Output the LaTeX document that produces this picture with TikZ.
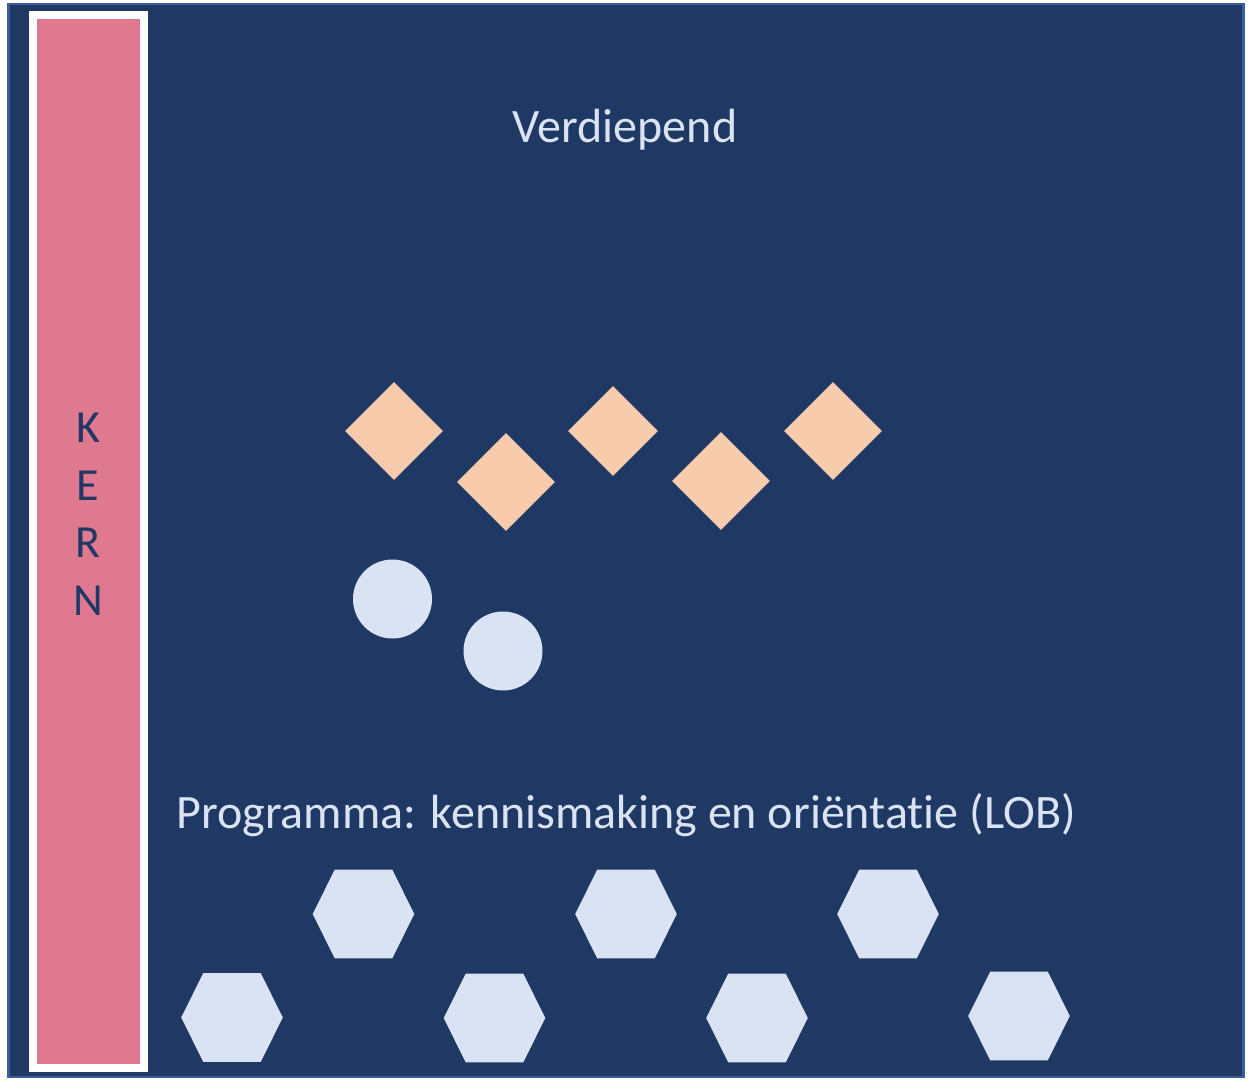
\documentclass[tikz,border=0pt]{standalone}
\usepackage{fontspec}
\setmainfont{Carlito}[Ligatures={NoCommon,NoRare}]
\usetikzlibrary{shapes.geometric}
\definecolor{navy}{HTML}{203864}
\definecolor{edgeblue}{HTML}{3A5C99}
\definecolor{pinkbar}{HTML}{DE7990}
\definecolor{peach}{HTML}{F8CBAD}
\definecolor{paleblue}{HTML}{DAE3F3}
\tikzset{
  bigtext/.style={font=\fontsize{48}{56}\selectfont, text=paleblue, inner sep=0pt, anchor=base},
  kerntext/.style={font=\fontsize{46}{56}\selectfont, text=navy, inner sep=0pt, anchor=base},
  ruit/.style={diamond, fill=peach, inner sep=0pt, minimum width=#1, minimum height=#1, shape aspect=1},
  bol/.style={circle, fill=paleblue, inner sep=0pt, minimum size=79pt},
  hexfill/.style={fill=paleblue}
}
\newcommand{\hexagonat}[2]{%
  \path[hexfill] (#1-50.8,#2) -- (#1-28.8,#2-44.3) -- (#1+28.8,#2-44.3) -- (#1+50.8,#2) -- (#1+28.8,#2+44.3) -- (#1-28.8,#2+44.3) -- cycle;}
\begin{document}
\begin{tikzpicture}[x=1pt,y=-1pt]
\useasboundingbox (0,0) rectangle (1248,1081);
% background panel
\draw[draw=edgeblue, line width=2.4pt, fill=navy] (8.5,4.3) rectangle (1243.3,1077.2);
% KERN bar
\draw[draw=white, line width=8pt, fill=pinkbar] (33.2,14.7) rectangle (143.8,1067.5);
\node[kerntext] (k1) at (88,442) {K};
\node[kerntext] (k2) at (88,500) {E};
\node[kerntext] (k3) at (88,557) {R};
\node[kerntext] (k4) at (88,615) {N};
% titles
\node[bigtext] (verd) at (625,142) {Verdiepend};
\node[bigtext] (prog) at (626,828) {Programma: kennismaking en oriëntatie (LOB)};
% diamonds
\node[ruit=98pt] (d1) at (394,431) {};
\node[ruit=98pt] (d2) at (506,482) {};
\node[ruit=90pt] (d3) at (613,431) {};
\node[ruit=98pt] (d4) at (721,481) {};
\node[ruit=98pt] (d5) at (833,431) {};
% circles
\node[bol] (c1) at (392.5,599) {};
\node[bol] (c2) at (503,651) {};
% hexagons
\hexagonat{363.5}{914}
\hexagonat{626}{914}
\hexagonat{888}{914}
\hexagonat{232}{1017.5}
\hexagonat{494.5}{1018}
\hexagonat{757}{1018}
\hexagonat{1019}{1016}
\end{tikzpicture}
\end{document}
